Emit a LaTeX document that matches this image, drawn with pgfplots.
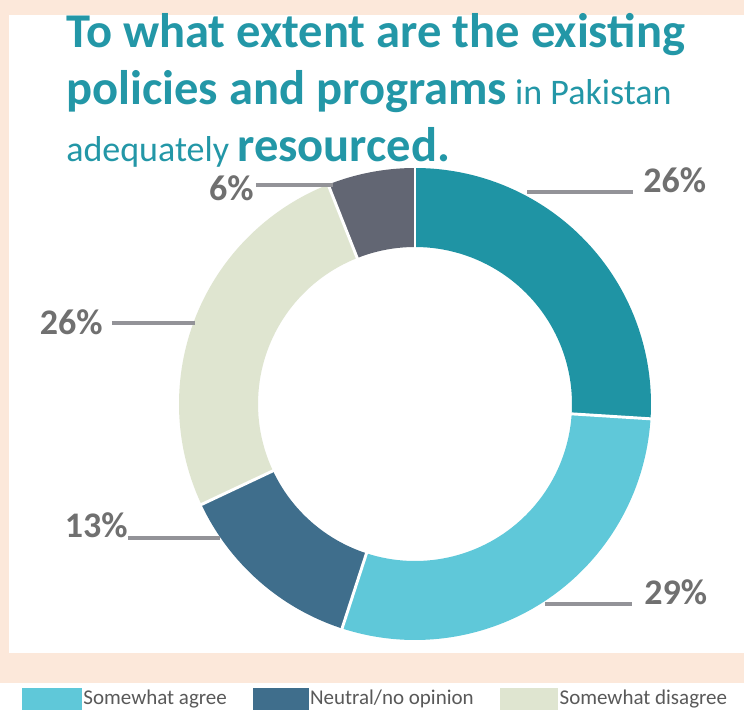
\documentclass[border=0pt]{standalone}
\usepackage{fontspec}
\setmainfont{Carlito}
\usepackage{pgfplots}
\usepackage{pgfplotstable}
\pgfplotsset{compat=1.18}

\definecolor{cA}{HTML}{1F94A4}
\definecolor{cB}{HTML}{5FC8D9}
\definecolor{cC}{HTML}{3F6E8C}
\definecolor{cD}{HTML}{DFE5D0}
\definecolor{cE}{HTML}{626673}
\definecolor{peach}{HTML}{FCE8DA}
\definecolor{titlec}{HTML}{2397A7}
\definecolor{lblgray}{HTML}{707070}
\definecolor{leadgray}{HTML}{939398}
\definecolor{legtext}{HTML}{595959}

% shares in percent, clockwise from 12 o'clock
\pgfplotstableread{
share
26
29
13
26
6
}\shares

% one ring segment, radii in px (1 data unit = 1 px)
\newcommand\seg[3]{%
  \fill[#3] (axis cs:{236*cos(#1)},{236*sin(#1)})
    arc[start angle=#1, end angle=#2, radius=177pt]
    -- (axis cs:{157*cos(#2)},{157*sin(#2)})
    arc[start angle=#2, end angle=#1, radius=117.75pt] -- cycle;}
\newcommand\gap[1]{%
  \draw[white, line width=2.2pt] (axis cs:{150*cos(#1)},{150*sin(#1)})
    -- (axis cs:{245*cos(#1)},{245*sin(#1)});}

\begin{document}
\begin{tikzpicture}[x=0.75pt, y=-0.75pt]
% background
\fill[white] (0,0) rectangle (744,710);
\fill[peach] (0,0) rectangle (744,683);
\fill[white] (9,15) rectangle (744,653);
\coordinate (ctr) at (415,404);

% title
\node[anchor=base west, inner sep=0, text=titlec,
  font=\fontsize{36.4}{36}\selectfont\bfseries] at (66,48)
  {To what extent are the existing};
\node[anchor=base west, inner sep=0, text=titlec] at (66,105)
  {\fontsize{36.4}{36}\selectfont\bfseries policies and programs\fontsize{27}{27}\selectfont\mdseries{} in Pakistan};
\node[anchor=base west, inner sep=0, text=titlec] at (66,162)
  {\fontsize{27}{27}\selectfont adequately \fontsize{36.4}{36}\selectfont\bfseries resourced.};

\pgfplotstablegetelem{0}{share}\of\shares \let\sA\pgfplotsretval
\pgfplotstablegetelem{1}{share}\of\shares \let\sB\pgfplotsretval
\pgfplotstablegetelem{2}{share}\of\shares \let\sC\pgfplotsretval
\pgfplotstablegetelem{3}{share}\of\shares \let\sD\pgfplotsretval
\pgfplotstablegetelem{4}{share}\of\shares \let\sE\pgfplotsretval
\pgfmathsetmacro\aA{90}
\pgfmathsetmacro\aB{\aA-3.6*\sA}
\pgfmathsetmacro\aC{\aB-3.6*\sB}
\pgfmathsetmacro\aD{\aC-3.6*\sC}
\pgfmathsetmacro\aE{\aD-3.6*\sD}
\pgfmathsetmacro\aF{\aE-3.6*\sE}

\begin{axis}[
    at={(ctr)}, anchor=origin,
    x=0.75pt, y=0.75pt,
    xmin=-240, xmax=240, ymin=-240, ymax=240,
    hide axis, clip=false,
    legend columns=3,
    legend cell align=left,
    legend style={at={(axis cs:-393,-294.5)}, anchor=west,
      draw=none, fill=none, inner sep=0pt,
      font=\fontsize{15.75}{16}\selectfont, text=legtext,
      nodes={inner sep=0.5pt},
      /tikz/every odd column/.append style={column sep=1pt},
      /tikz/every even column/.append style={column sep=19pt}},
]
\seg{\aA}{\aB}{cA}
\seg{\aB}{\aC}{cB}
\seg{\aC}{\aD}{cC}
\seg{\aD}{\aE}{cD}
\seg{\aE}{\aF}{cE}
\gap{\aA}\gap{\aB}\gap{\aC}\gap{\aD}\gap{\aE}

% leader lines and labels
\begin{scope}[leadgray, line width=2.6pt]
\draw (axis cs:112,212) -- (axis cs:218,212);
\draw (axis cs:130,-200) -- (axis cs:217,-200);
\draw (axis cs:-287,-134) -- (axis cs:-195,-134);
\draw (axis cs:-303,81) -- (axis cs:-220,81);
\draw (axis cs:-159,219) -- (axis cs:-82,219);
\end{scope}
\begin{scope}[every node/.style={inner sep=0, text=lblgray,
    font=\fontsize{27}{27}\selectfont\bfseries}]
\node[anchor=base west] at (axis cs:228,211) {\sA\%};
\node[anchor=base west] at (axis cs:229,-200) {\sB\%};
\node[anchor=base east] at (axis cs:-287,-133) {\sC\%};
\node[anchor=base east] at (axis cs:-312,70) {\sD\%};
\node[anchor=base east] at (axis cs:-161,204) {\sE\%};
\end{scope}

\addlegendimage{legend image code/.code={\fill[cB] (0pt,-7.9pt) rectangle (44pt,7.9pt);}}
\addlegendentry{Somewhat agree}
\addlegendimage{legend image code/.code={\fill[cC] (0pt,-7.9pt) rectangle (41pt,7.9pt);}}
\addlegendentry{Neutral/no opinion}
\addlegendimage{legend image code/.code={\fill[cD] (0pt,-7.9pt) rectangle (43pt,7.9pt);}}
\addlegendentry{Somewhat disagree}
\end{axis}
\end{tikzpicture}
\end{document}
